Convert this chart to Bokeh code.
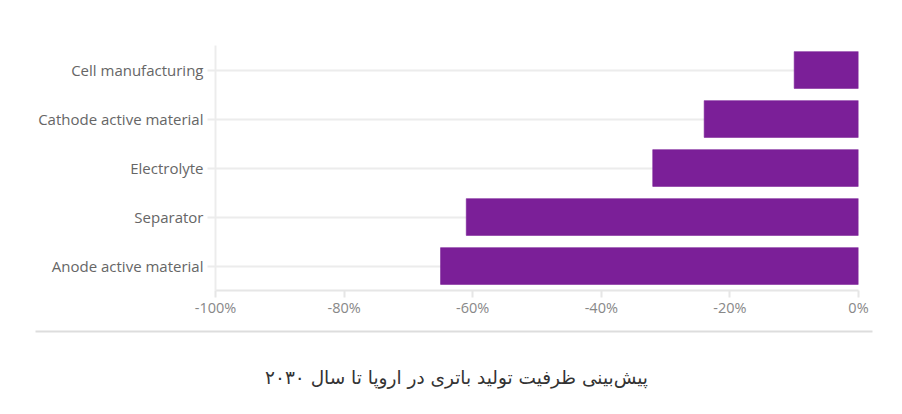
from bokeh.plotting import figure
from bokeh.models import Range1d, FactorRange, FixedTicker, PrintfTickFormatter, Label
from bokeh.embed import file_html
from bokeh.resources import INLINE

categories = ["Cell manufacturing", "Cathode active material", "Electrolyte",
              "Separator", "Anode active material"]
values = [-10, -24, -32, -61, -65]
x_ticks = [-100, -80, -60, -40, -20, 0]
caption = "پیش‌بینی ظرفیت تولید باتری در اروپا تا سال ۲۰۳۰"

BAR = "#7b1f98"
FONT = "Open Sans"

p = figure(width=886, height=322, output_backend="svg", toolbar_location=None,
           y_range=FactorRange(factors=categories[::-1], range_padding=0),
           x_range=Range1d(-100, 0),
           min_border_left=215, min_border_right=28, min_border_top=45,
           min_border_bottom=32)
p.outline_line_color = None
p.hbar(y=categories, left=values, right=0, height=0.75,
       fill_color=BAR, line_color=BAR, line_alpha=0.6)

p.xgrid.grid_line_color = None
p.ygrid.grid_line_color = "#ececec"
p.ygrid.grid_line_width = 2
p.ygrid.level = "underlay"

xa = p.xaxis[0]
xa.ticker = FixedTicker(ticks=x_ticks)
xa.formatter = PrintfTickFormatter(format="%d%%")
xa.axis_line_color = "#e6e6e6"
xa.axis_line_width = 2
xa.major_tick_line_color = "#e6e6e6"
xa.major_tick_line_width = 2
xa.major_tick_out = 7
xa.major_tick_in = 0
xa.minor_tick_line_color = None
xa.major_label_standoff = 0
xa.major_label_text_font = FONT
xa.major_label_text_font_size = "14.5px"
xa.major_label_text_color = "#888888"

ya = p.yaxis[0]
ya.axis_line_color = "#ececec"
ya.axis_line_width = 2
ya.major_tick_line_color = "#ececec"
ya.major_tick_line_width = 2
ya.major_tick_out = 8
ya.major_tick_in = 0
ya.major_label_standoff = 4
ya.major_label_text_font = FONT
ya.major_label_text_font_size = "15px"
ya.major_label_text_color = "#666666"

q = figure(width=886, height=90, output_backend="svg", toolbar_location=None,
           x_range=Range1d(0, 886), y_range=Range1d(0, 90),
           min_border=0)
q.outline_line_color = None
q.axis.visible = False
q.grid.visible = False
q.segment(x0=[35], y0=[81], x1=[872], y1=[81], line_color="#dddddd", line_width=2)
q.add_layout(Label(x=456, y=35, text=caption, text_align="center",
                   text_baseline="middle", text_font="DejaVu Sans",
                   text_font_size="18.5px", text_color="#333333"))

open("out.html", "w").write(file_html([p, q], INLINE))
